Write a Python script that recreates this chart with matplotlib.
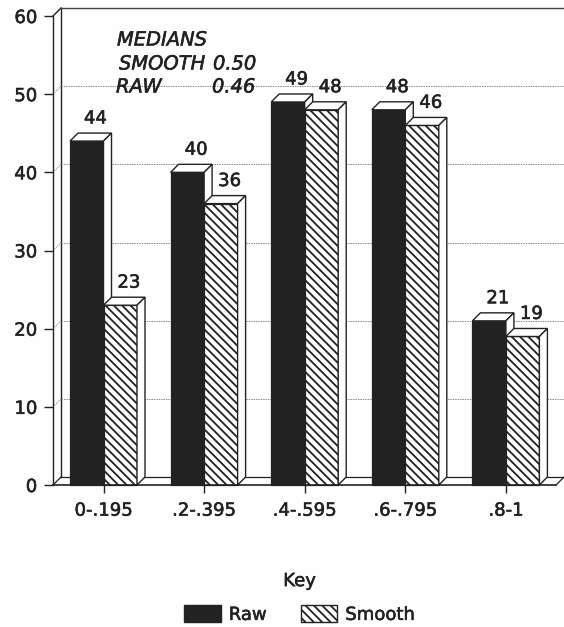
import matplotlib
matplotlib.use('Agg')
import matplotlib.pyplot as plt
import matplotlib.patheffects as pe
from matplotlib.patches import Patch
from matplotlib.text import Text

categories = ['0-.195', '.2-.395', '.4-.595', '.6-.795', '.8-1']
raw = [44, 40, 49, 48, 21]
smooth = [23, 36, 48, 46, 19]
yticks = [0, 10, 20, 30, 40, 50, 60]

INK = '#222222'
W, H = 564, 627
L, R, T, B = 53, 564, 16, 485   # plot box in pixels
PX_X = 100.6                    # pixels per category
PX_Y = (B - T) / 60
DX = 8 / PX_X                   # depth of the 3d effect, in data units
DY = 8 / PX_Y
BAR = 33.5 / PX_X
HATCH = '\\\\\\\\'

plt.rcParams['font.family'] = 'DejaVu Sans'
plt.rcParams['hatch.linewidth'] = 1.3
plt.rcParams['hatch.color'] = INK

fig = plt.figure(figsize=(W / 100, H / 100), dpi=100, facecolor='#fefefe')
ax = fig.add_axes([L / W, 1 - B / H, (R - L) / W, (B - T) / H])
ax.set_xlim((L - 103.5) / PX_X, (R - 103.5) / PX_X)
ax.set_ylim(0, 60)
ax.patch.set_visible(False)
for s in ['top', 'right', 'bottom']:
    ax.spines[s].set_visible(False)
ax.spines['left'].set_color(INK)
ax.spines['left'].set_linewidth(1.0)

x0, x1 = ax.get_xlim()
x_end = x1 - DX

# back wall
ax.plot([x0 + DX] * 2, [DY, 60 + DY], color=INK, lw=1.0, clip_on=False, zorder=1)
ax.plot([x0, x0 + DX], [60, 60 + DY], color=INK, lw=1.0, clip_on=False, zorder=1)
ax.plot([x0 + DX, x1], [60 + DY] * 2, color='#444444', lw=1.0, clip_on=False, zorder=1)
ax.plot([x0, x0 + DX], [0, DY], color=INK, lw=0.9, clip_on=False, zorder=1)
ax.plot([x0 + DX, x1], [DY, DY], color=INK, lw=0.9, clip_on=False, zorder=1)
ax.plot([x_end, x1], [0, DY], color=INK, lw=0.9, clip_on=False, zorder=1)
for v in yticks[1:-1]:
    ax.plot([x0 + DX, x1], [v + DY] * 2, color='#888888', lw=0.7, ls=(0, (1.5, 1)),
            clip_on=False, zorder=1)
    ax.plot([x0, x0 + DX], [v, v + DY], color='#888888', lw=0.6, ls=(0, (1.5, 1)),
            clip_on=False, zorder=1)


def draw_series(values, offset, face, hatch):
    xs = [i + offset for i in range(len(values))]
    ax.bar(xs, values, width=BAR, align='edge', facecolor=face, edgecolor=INK,
           linewidth=0.9, hatch=hatch, zorder=3, clip_on=False)
    for x, v in zip(xs, values):
        # top and right faces of the block
        ax.fill([x, x + BAR, x + BAR + DX, x + DX], [v, v, v + DY, v + DY],
                facecolor='white', edgecolor=INK, lw=1.0, zorder=3, clip_on=False)
        ax.fill([x + BAR, x + BAR + DX, x + BAR + DX, x + BAR], [0, DY, v + DY, v],
                facecolor='white', edgecolor=INK, lw=1.0, zorder=3, clip_on=False)
        ax.annotate(str(v), (x + BAR / 2 + DX, v + DY), xytext=(0.5, 4),
                    textcoords='offset points', ha='center', va='bottom',
                    fontsize=13, color=INK, zorder=5, annotation_clip=False)


draw_series(raw, -BAR, INK, None)
draw_series(smooth, 0, 'white', HATCH)

ax.plot([x0, x_end], [0, 0], color=INK, lw=1.2, zorder=4, clip_on=False)

ax.set_xticks(range(len(categories)))
ax.set_xticklabels(categories)
ax.set_yticks(yticks)
ax.tick_params(axis='y', length=6.5, width=1.0, color=INK, labelsize=13,
               labelcolor=INK, pad=5)
ax.tick_params(axis='x', length=6, width=1.0, color=INK, labelsize=13,
               labelcolor=INK, pad=6)

# medians note
for text, px, py in [('MEDIANS', 117, 40), ('SMOOTH', 119, 64), ('0.50', 213, 64),
                     ('RAW', 116, 87), ('0.46', 212, 87)]:
    fig.text(px / W, 1 - py / H, text, style='italic', fontsize=14, color=INK, va='center')

handles = [Patch(facecolor=INK, edgecolor=INK, label='Raw'),
           Patch(facecolor='white', edgecolor=INK, hatch=HATCH, label='Smooth')]
leg = fig.legend(handles=handles, title='Key', ncols=2, frameon=False, fontsize=13,
                 title_fontsize=13, loc='center', bbox_to_anchor=(299.5 / W, 1 - 598 / H),
                 handlelength=2.0, handleheight=1.05, columnspacing=1.9, handletextpad=0.45,
                 borderpad=0)
leg.get_title().set_color(INK)
leg._legend_box.sep = 11
for t in leg.get_texts():
    t.set_color(INK)

# the scan has heavier type than the regular weight
for t in fig.findobj(Text):
    t.set_path_effects([pe.withStroke(linewidth=0.4, foreground=INK)])

fig.savefig('out.png', dpi=100, facecolor=fig.get_facecolor())
